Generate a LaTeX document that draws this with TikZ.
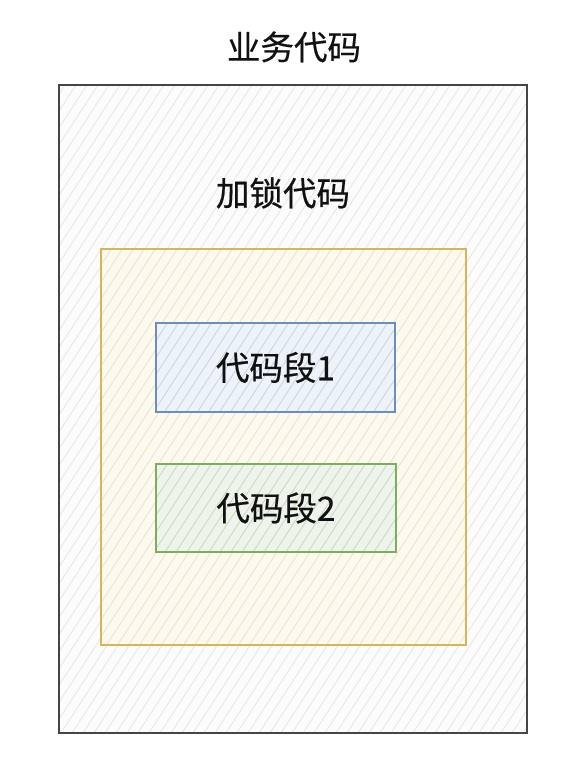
\documentclass[tikz,border=0pt]{standalone}
\usepackage{fontspec}
\newfontfamily\cjk[FakeBold=0.5]{Noto Sans CJK SC}
\definecolor{outerdraw}{HTML}{454545}
\definecolor{outerfill}{HTML}{FCFCFC}
\definecolor{outerhatch}{HTML}{E8E8E8}
\definecolor{lockdraw}{HTML}{D6B656}
\definecolor{lockfill}{HTML}{FCF9EF}
\definecolor{lockhatch}{HTML}{EDE4CB}
\definecolor{bluedraw}{HTML}{6C8EBF}
\definecolor{bluefill}{HTML}{EEF2F9}
\definecolor{bluehatch}{HTML}{CAD5E6}
\definecolor{greendraw}{HTML}{7BAE5F}
\definecolor{greenfill}{HTML}{EEF4EC}
\definecolor{greenhatch}{HTML}{C9DBC0}
\definecolor{txt}{HTML}{111111}
\begin{document}
\begin{tikzpicture}[x=1pt,y=-1pt,
  hatchbox/.style n args={3}{draw=#1, line width=2.6pt, fill=#2, inner sep=0pt,
    path picture={\foreach \i in {-760,-749,...,300}{\draw[line width=0.9pt, draw=#3]
      ([xshift=\i pt]path picture bounding box.south) -- ++(560pt,860pt);}}},
  lbl/.style={font=\cjk\fontsize{33.5}{38}\selectfont, text=txt, inner sep=0pt}]
\useasboundingbox[fill=white] (0,0) rectangle (588,774);
\node[hatchbox={outerdraw}{outerfill}{outerhatch}, minimum width=468pt, minimum height=648pt] (outer) at (293,409) {};
\node[lbl] (outerlbl) at (294,47) {业务代码};
\node[lbl] (locklbl) at (283,193) {加锁代码};
\node[hatchbox={lockdraw}{lockfill}{lockhatch}, minimum width=365pt, minimum height=396pt] (lock) at (283.5,447) {};
\node[hatchbox={bluedraw}{bluefill}{bluehatch}, minimum width=239pt, minimum height=89pt, lbl] (seg1) at (275.5,367.5) {代码段1};
\node[hatchbox={greendraw}{greenfill}{greenhatch}, minimum width=240pt, minimum height=88pt, lbl] (seg2) at (276,508) {代码段2};
\end{tikzpicture}
\end{document}
